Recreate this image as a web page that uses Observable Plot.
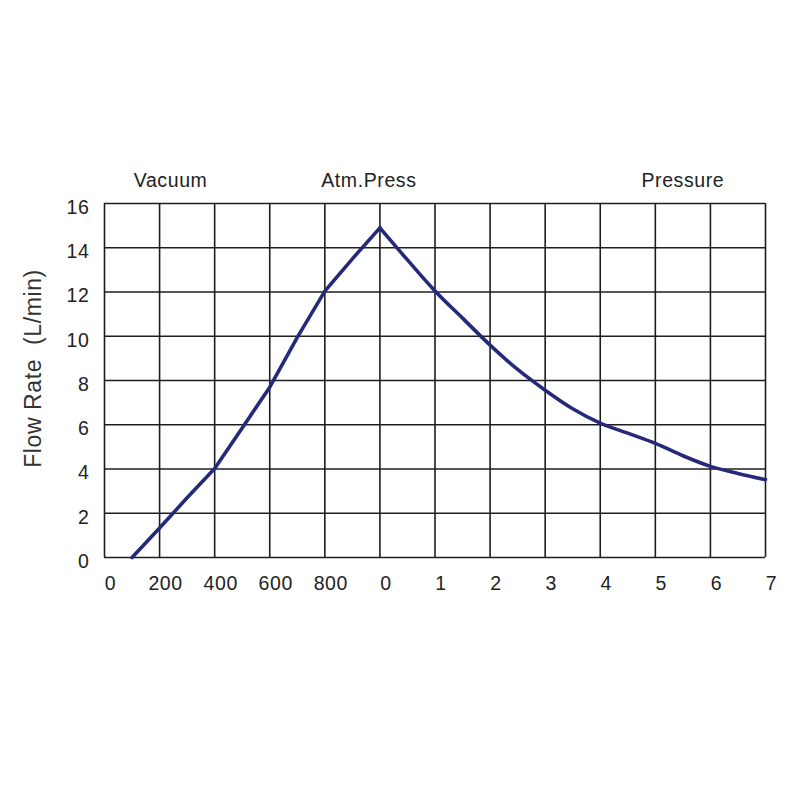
<!DOCTYPE html>
<html>
<head>
<meta charset="utf-8">
<script src="https://cdn.jsdelivr.net/npm/d3@7"></script>
<script src="https://cdn.jsdelivr.net/npm/@observablehq/plot@0.6"></script>
<style>
  html, body { margin: 0; padding: 0; background: #fff; }
  #chart { width: 800px; height: 800px; }
  #chart text { letter-spacing: 0.6px; }
</style>
</head>
<body>
<div id="chart"></div>
<script>
// Tick labels along the x axis (vacuum mmHg on the left, pressure bar on the right)
const xTickLabels = ["0", "200", "400", "600", "800", "0", "1", "2", "3", "4", "5", "6", "7"];
const yTicks = [0, 2, 4, 6, 8, 10, 12, 14, 16];

// Flow curve sampled at half grid steps (grid index, L/min)
const curveIndex = [0.5, 1, 1.5, 2, 2.5, 3, 3.5, 4, 4.5, 5, 5.5, 6, 6.5, 7, 7.5, 8, 8.5, 9, 9.5, 10, 10.5, 11, 11.5, 12];
const curveFlow  = [0, 1.33, 2.7, 4.02, 5.85, 7.7, 9.95, 12.04, 13.5, 14.9, 13.45, 12.05, 10.82, 9.6, 8.5, 7.56, 6.72, 6.07, 5.62, 5.16, 4.6, 4.12, 3.8, 3.52];
const peakIndex = 5;

// Region headers above the plot
const headerLabels = ["Vacuum", "Atm.Press", "Pressure"];
const headerAt = [1.2, 4.8, 10.5];

const curve = curveIndex.map((x, i) => ({x, y: curveFlow[i]}));
const vacuumSide = curve.filter(d => d.x <= peakIndex);
const pressureSide = curve.filter(d => d.x >= peakIndex);
const xTicks = xTickLabels.map((_, i) => i);
const headers = headerLabels.map((t, i) => ({t, x: headerAt[i]}));

const font = "'Liberation Sans', Arial, sans-serif";
const gridColor = "#1e1e1e";
const lineColor = "#26287a";

const chart = Plot.plot({
  width: 800,
  height: 800,
  marginLeft: 104,
  marginRight: 35,
  marginTop: 203,
  marginBottom: 243,
  style: { fontFamily: font, fontSize: "19px", color: "#222", background: "#fff" },
  x: { domain: [0, 12], axis: null },
  y: { domain: [0, 16], axis: null },
  marks: [
    Plot.ruleX(xTicks, { stroke: gridColor, strokeWidth: 1.6 }),
    Plot.ruleY(yTicks, { stroke: gridColor, strokeWidth: 1.6 }),
    Plot.axisY(yTicks, {
      tickSize: 0, tickPadding: 15, dy: 4, fontSize: 19.5,
      fill: "#222", label: null
    }),
    Plot.axisX(xTicks, {
      tickSize: 0, tickPadding: 19, dx: 6, fontSize: 19.5,
      fill: "#222", label: null,
      tickFormat: (d) => xTickLabels[d]
    }),
    Plot.text(["Flow Rate  (L/min)"], {
      frameAnchor: "left", textAnchor: "middle", dx: -71, dy: -12, rotate: -90,
      fontSize: 23, fill: "#333"
    }),
    Plot.text(headers, {
      x: "x", y: () => 16, text: "t", dy: -23,
      fontSize: 19.5, fill: "#222"
    }),
    Plot.line(vacuumSide, {
      x: "x", y: "y", stroke: lineColor, strokeWidth: 3.6,
      curve: "linear", strokeLinejoin: "round"
    }),
    Plot.line(pressureSide, {
      x: "x", y: "y", stroke: lineColor, strokeWidth: 3.6,
      curve: "monotone-x", strokeLinejoin: "round"
    })
  ]
});

document.getElementById("chart").append(chart);
</script>
</body>
</html>
